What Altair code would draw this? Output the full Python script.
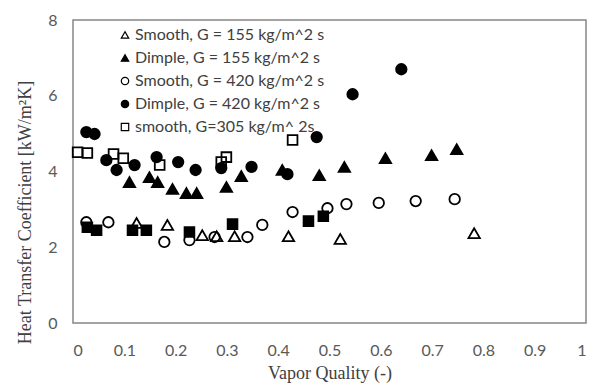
import altair as alt
import pandas as pd

S1 = "Smooth, G = 155 kg/m^2 s"
S2 = "Dimple, G = 155 kg/m^2 s"
S3 = "Smooth, G = 420 kg/m^2 s"
S4 = "Dimple, G = 420 kg/m^2 s"
S5 = "smooth, G=305 kg/m^ 2s"
S6 = "Dimple, G=305 kg/m^ 2s"

smooth155_x = [0.124, 0.184, 0.252, 0.280, 0.315, 0.420, 0.521, 0.782]
smooth155_y = [2.64, 2.59, 2.32, 2.29, 2.29, 2.29, 2.22, 2.37]

dimple155_x = [0.110, 0.149, 0.165, 0.194, 0.221, 0.241, 0.299, 0.328, 0.408, 0.480, 0.529, 0.609, 0.699, 0.748]
dimple155_y = [3.72, 3.85, 3.72, 3.54, 3.43, 3.43, 3.59, 3.88, 4.04, 3.90, 4.12, 4.35, 4.43, 4.59]

smooth420_x = [0.026, 0.069, 0.178, 0.227, 0.276, 0.340, 0.369, 0.428, 0.496, 0.533, 0.596, 0.668, 0.744]
smooth420_y = [2.66, 2.66, 2.14, 2.19, 2.27, 2.27, 2.59, 2.93, 3.03, 3.14, 3.17, 3.22, 3.27]

dimple420_x = [0.026, 0.042, 0.065, 0.085, 0.120, 0.163, 0.205, 0.239, 0.289, 0.348, 0.418, 0.475, 0.545, 0.640]
dimple420_y = [5.04, 4.99, 4.30, 4.04, 4.17, 4.38, 4.25, 4.04, 4.09, 4.12, 3.93, 4.91, 6.04, 6.70]

smooth305_x = [0.009, 0.028, 0.079, 0.098, 0.169, 0.289, 0.299, 0.428]
smooth305_y = [4.51, 4.49, 4.46, 4.35, 4.17, 4.25, 4.38, 4.83]

dimple305_x = [0.028, 0.046, 0.116, 0.143, 0.227, 0.311, 0.459, 0.488]
dimple305_y = [2.53, 2.45, 2.45, 2.45, 2.40, 2.61, 2.69, 2.82]

x_ticks = [0, 0.1, 0.2, 0.3, 0.4, 0.5, 0.6, 0.7, 0.8, 0.9, 1]
y_ticks = [0, 2, 4, 6, 8]

rows = []
for name, xs, ys in [(S1, smooth155_x, smooth155_y), (S2, dimple155_x, dimple155_y),
                     (S3, smooth420_x, smooth420_y), (S4, dimple420_x, dimple420_y),
                     (S5, smooth305_x, smooth305_y), (S6, dimple305_x, dimple305_y)]:
    for a, b in zip(xs, ys):
        rows.append({"series": name, "x": a, "y": b})
df = pd.DataFrame(rows)

domain = [S1, S2, S3, S4, S5, S6]
shape_range = ["triangle-up", "triangle-up", "circle", "circle", "square", "square"]
fill_range = ["transparent", "black", "transparent", "black", "transparent", "black"]
stroke_range = ["black"] * 6

legend = alt.Legend(
    title=None, orient="none", legendX=44, legendY=7, values=domain[:5],
    labelFont="Lato", labelFontSize=16, labelColor="#404040", labelLimit=0,
    symbolSize=55, symbolStrokeWidth=1.2,
    rowPadding=7, labelOffset=2, padding=0,
)

base = alt.Chart(df).encode(
    x=alt.X("x:Q", scale=alt.Scale(domain=[0, 1]), title="Vapor Quality (-)",
            axis=alt.Axis(values=x_ticks, format="~g", grid=False, domain=False, ticks=False,
                          labelFont="Lato", labelFontSize=16, labelColor="#595959", labelPadding=19,
                          titleFont="Liberation Serif", titleFontSize=18, titleFontWeight="normal",
                          titleColor="#404040", titlePadding=6)),
    y=alt.Y("y:Q", scale=alt.Scale(domain=[0, 8]), title="Heat Transfer Coefficient [kW/m²K]",
            axis=alt.Axis(values=y_ticks, grid=False, domain=False, ticks=False,
                          labelFont="Lato", labelFontSize=16, labelColor="#595959", labelPadding=16,
                          titleFont="Liberation Serif", titleFontSize=18, titleFontWeight="normal",
                          titleColor="#404040", titleX=-43, titleY=192, titleBaseline="alphabetic")),
    shape=alt.Shape("series:N", scale=alt.Scale(domain=domain, range=shape_range), legend=legend),
    fill=alt.Fill("series:N", scale=alt.Scale(domain=domain, range=fill_range), legend=legend),
    stroke=alt.Stroke("series:N", scale=alt.Scale(domain=domain, range=stroke_range), legend=legend),
)

tri = base.transform_filter(alt.FieldOneOfPredicate(field="series", oneOf=[S1, S2])).mark_point(
    filled=True, strokeWidth=1.8, size=130, opacity=1)
cir = base.transform_filter(alt.FieldOneOfPredicate(field="series", oneOf=[S3, S4])).mark_point(
    filled=True, strokeWidth=1.8, size=110, opacity=1)
sq = base.transform_filter(alt.FieldOneOfPredicate(field="series", oneOf=[S5, S6])).mark_point(
    filled=True, strokeWidth=1.8, size=95, opacity=1)

chart = alt.layer(tri, cir, sq).properties(
    width=513, height=303,
    autosize=alt.AutoSizeParams(type="none"),
    padding={"left": 73, "top": 20, "right": 9, "bottom": 62},
    background="white",
).configure_view(stroke="#868686", strokeWidth=1.5)

chart.save("out.html", embed_options={"renderer": "svg", "actions": False})
